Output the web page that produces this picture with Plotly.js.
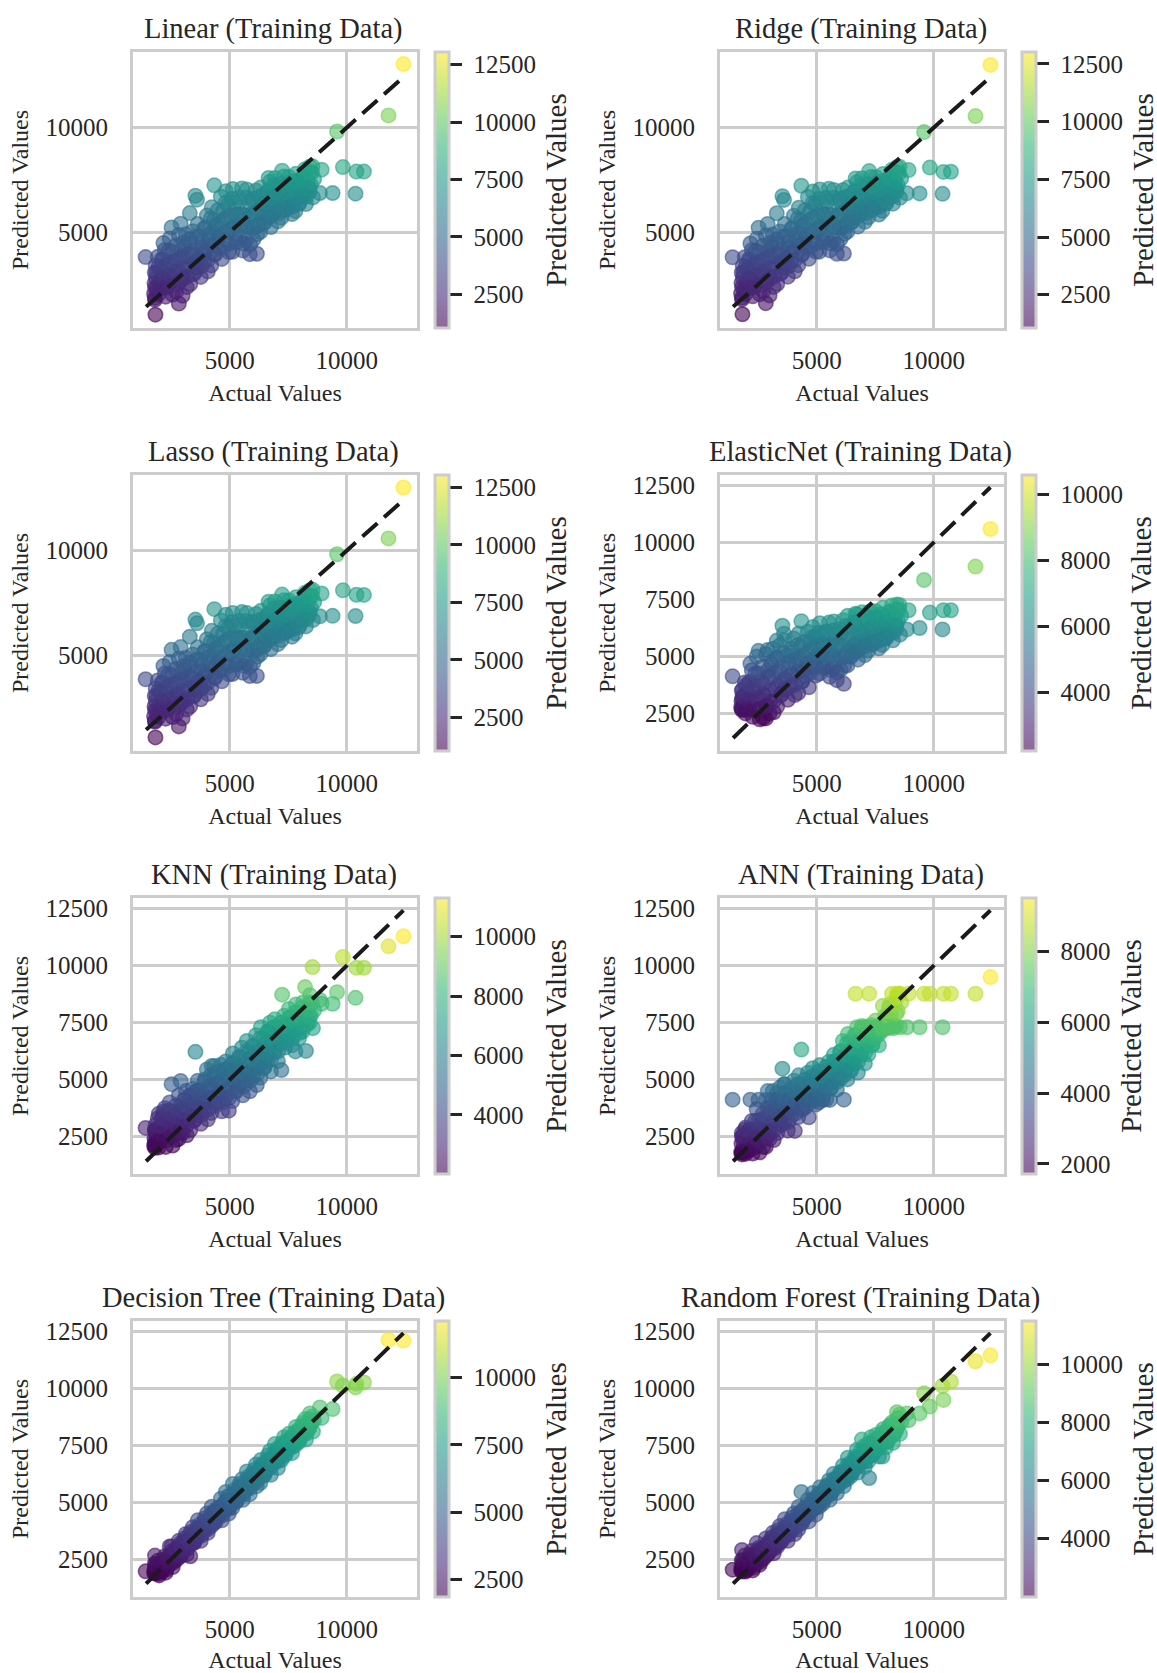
<!DOCTYPE html>
<html>
<head>
<meta charset="utf-8">
<script src="https://cdn.plot.ly/plotly-3.0.1.min.js"></script>
<style>html,body{margin:0;padding:0;background:#fff}</style>
</head>
<body>
<div id="chart" style="width:1157px;height:1673px"></div>
<script>
var modelNames = ["Linear","Ridge","Lasso","ElasticNet","KNN","ANN","Decision Tree","Random Forest"];

var actual = [
1400,1820,1800,1960,2160,2510,2900,2820,2980,3290,3530,3600,4340,6660,7240,8540,8855,8930,9400,9590,9840,10380,10420,10740,11790,12430,
1800,1760,1870,1780,1840,1790,
1950,1800,2010,1860,1830,1920,
2260,2110,2170,2310,2130,2220,
2560,2410,2610,2470,2520,2430,
2710,2860,2770,2730,2910,2820,
3160,3010,3210,3030,3070,3120,
3310,3460,3510,3370,3330,3420,
3760,3610,3670,3810,3720,3630,
4060,3910,3970,4110,3930,4020,
4210,4360,4410,4270,4320,4230,
4660,4510,4570,4530,4710,4620,
4960,4810,5010,4870,4920,4830,
5110,5260,5170,5310,5220,5130,
5560,5410,5610,5470,5430,5520,
5860,5710,5770,5910,5820,5730,
6160,6010,6210,6070,6030,6120,
6310,6460,6510,6370,6420,6330,
6760,6610,6670,6810,6630,6720,
7060,6910,7110,6970,7020,6930,
7210,7360,7270,7230,7410,7320,
7660,7510,7570,7710,7620,7530,
7810,7960,8010,7870,7920,7830,
8260,8110,8310,8170,8130,8220,
8560,8410,8470,8610,8520,8430,
1980,2120,2030,2090,
2290,2410,2320,2380,
2580,2710,2630,2690,
2890,3000,2920,3030,
3170,3320,3230,3290,
3480,3610,3520,3590,
3790,3900,3830,3920,
4070,4220,4130,4190,
4380,4510,4420,4490,
4690,4800,4730,4820,
4970,5120,5030,5090,
5280,5410,5320,5390,
5590,5700,5630,5720,
5870,6020,5930,5990,
6180,6310,6220,6290,
6490,6600,6530,6620,
6770,6920,6830,6890,
7080,7210,7120,7190,
7390,7500,7430,7520,
7670,7820,7730,7790,
7980,8110,8020,8090,
8290,8400,8330,8420];

var linearPred = [
3800,1040,1840,3350,4470,5220,5400,1570,1950,5910,6740,6550,7240,7590,7940,8150,6870,7990,6870,9820,8115,6840,7900,7900,10590,13050,
1750,2040,2320,2550,2790,3060,
2010,2340,2710,3040,3390,3810,
1900,2310,2740,3190,3660,4140,
2000,2520,3010,3490,4060,4690,
2150,2640,3160,3650,4140,4860,
2360,2800,3290,3810,4300,4890,
2510,2990,3520,3940,4460,5040,
2850,3310,3740,4260,4790,5390,
3110,3590,4110,4600,5160,5790,
3400,3920,4440,5010,5560,6190,
3710,4240,4860,5390,6010,6690,
4040,4610,5140,5710,6290,6960,
4050,4660,5240,5810,6390,7060,
4110,4690,5310,5840,6460,7090,
3940,4610,5240,5860,6440,7040,
3960,4640,5310,5890,6460,6990,
5010,5440,5910,6340,6760,7140,
5240,5710,6090,6560,6940,7410,
5510,5940,6360,6740,7160,7590,
5690,6110,6490,6860,7240,7660,
5860,6190,6560,6890,7310,7640,
6010,6340,6710,7040,7410,7790,
6340,6660,6940,7310,7640,8010,
6660,6940,7260,7540,7860,8140,
2300,2800,3200,3700,
2350,2950,3450,4100,
2450,3100,3600,4350,
2650,3300,3800,4500,
2850,3450,3950,4650,
3050,3650,4150,4800,
3350,4000,4500,5200,
3650,4350,4900,5650,
3950,4700,5300,6050,
4250,5000,5600,6400,
4450,5200,5800,6600,
4500,5250,5850,6650,
4450,5250,5800,6650,
4400,5200,5750,6600,
4900,5500,6050,6700,
5450,5950,6400,6950,
5750,6200,6650,7250,
5900,6350,6800,7300,
6050,6500,6900,7350,
6200,6600,7000,7450,
6400,6800,7200,7600,
6700,7100,7450,7850];

var ridgePred = [
3790,1060,1860,3340,4450,5210,5390,1590,1960,5900,6720,6540,7220,7570,7920,8130,6860,7970,6850,9790,8090,6830,7880,7890,10560,13010,
1770,2050,2310,2560,2810,3050,
2020,2360,2700,3060,3380,3790,
1920,2300,2760,3200,3640,4130,
2020,2510,3020,3500,4040,4680,
2160,2660,3140,3660,4130,4840,
2370,2810,3300,3790,4310,4880,
2520,3010,3500,3960,4440,5030,
2860,3300,3760,4240,4810,5380,
3120,3610,4090,4610,5140,5780,
3410,3910,4460,4990,5550,6170,
3720,4260,4840,5410,5990,6680,
4060,4590,5160,5690,6310,6940,
4060,4640,5260,5790,6410,7040,
4120,4710,5290,5860,6440,7080,
3960,4590,5260,5840,6460,7020,
3970,4660,5290,5910,6440,7010,
5020,5460,5890,6360,6740,7130,
5260,5690,6110,6540,6960,7390,
5490,5960,6340,6760,7140,7580,
5710,6090,6510,6840,7260,7640,
5840,6210,6540,6910,7290,7630,
6020,6360,6690,7060,7390,7780,
6360,6640,6960,7290,7660,7990,
6640,6960,7240,7560,7840,8120,
2310,2790,3210,3690,
2360,2940,3460,4090,
2460,3090,3610,4340,
2660,3290,3810,4490,
2860,3440,3960,4640,
3060,3640,4160,4790,
3360,3990,4510,5190,
3660,4340,4910,5640,
3960,4690,5310,6040,
4260,4990,5610,6390,
4460,5190,5810,6590,
4510,5240,5860,6640,
4460,5240,5810,6640,
4410,5190,5760,6590,
4910,5490,6060,6690,
5460,5940,6410,6940,
5760,6190,6660,7240,
5910,6340,6810,7290,
6060,6490,6910,7340,
6210,6590,7010,7440,
6410,6790,7210,7590,
6710,7090,7460,7840];

var lassoPred = [
3840,1050,1850,3300,4480,5250,5380,1580,1960,5880,6700,6520,7200,7560,7900,8130,6860,7950,6880,9830,8100,6870,7890,7880,10590,13030,
1800,2060,2340,2540,2780,3040,
2030,2370,2690,3030,3400,3780,
1950,2290,2730,3180,3670,4120,
2030,2490,3000,3510,4030,4670,
2180,2630,3170,3640,4150,4830,
2390,2790,3310,3780,4290,4870,
2540,3020,3490,3930,4470,5020,
2880,3290,3770,4230,4780,5370,
3140,3580,4120,4590,5170,5760,
3430,3890,4470,4980,5570,6160,
3740,4230,4870,5380,6020,6660,
4080,4580,5170,5680,6280,6930,
4090,4630,5270,5780,6380,7020,
4150,4680,5320,5830,6430,7060,
3990,4580,5270,5830,6430,7010,
4000,4620,5320,5880,6450,6970,
5040,5430,5920,6330,6730,7120,
5280,5680,6120,6530,6930,7380,
5520,5930,6370,6730,7130,7570,
5720,6080,6520,6830,7230,7630,
5880,6180,6570,6880,7280,7620,
6040,6330,6720,7030,7380,7770,
6370,6630,6970,7280,7630,7980,
6680,6930,7270,7530,7830,8110,
2330,2780,3220,3680,
2380,2930,3470,4080,
2480,3080,3620,4330,
2680,3280,3820,4480,
2880,3430,3970,4630,
3080,3630,4170,4780,
3380,3980,4520,5180,
3680,4330,4920,5630,
3980,4680,5320,6030,
4280,4980,5620,6380,
4480,5180,5820,6580,
4530,5230,5870,6630,
4480,5230,5820,6630,
4430,5180,5770,6580,
4930,5480,6070,6680,
5480,5930,6420,6930,
5780,6180,6670,7230,
5930,6330,6820,7280,
6080,6480,6920,7330,
6230,6580,7020,7430,
6430,6780,7220,7580,
6730,7080,7470,7830];

var elasticPred = [
4130,2700,3160,3740,4690,5250,5280,2280,2500,5700,6350,6000,6550,6880,6950,7260,6190,7030,6250,8360,6930,6190,7030,7030,8950,10600,
2650,2760,2900,3040,3260,3500,
2500,2700,2960,3240,3550,3860,
2350,2740,3150,3510,3890,4400,
2240,2700,3160,3640,4260,5000,
2300,2810,3290,3810,4390,5100,
2550,3040,3560,4090,4660,5340,
2810,3290,3810,4340,4910,5490,
3100,3560,3990,4510,5040,5710,
3310,3740,4210,4640,5160,5790,
3400,3910,4390,4910,5440,6010,
3650,4140,4660,5090,5610,6090,
4160,4540,5010,5390,5860,6290,
4250,4660,5040,5510,5940,6460,
4110,4540,5060,5490,6010,6490,
3960,4490,5060,5490,6010,6540,
3800,4410,4990,5510,6040,6590,
4610,4990,5410,5790,6310,6790,
4860,5190,5560,5940,6410,6840,
5060,5390,5760,6090,6510,6940,
5260,5540,5860,6190,6610,6990,
5360,5640,5960,6290,6660,6990,
5510,5790,6110,6390,6760,7140,
5710,5990,6310,6590,6960,7240,
5960,6240,6560,6790,7060,7280,
2650,3050,3400,3800,
2650,3200,3700,4250,
2700,3350,3900,4550,
2850,3500,4100,4750,
3050,3700,4300,4950,
3350,4000,4550,5150,
3600,4200,4750,5350,
3750,4350,4900,5500,
3900,4500,5050,5650,
4250,4800,5300,5850,
4550,5050,5500,6050,
4500,5050,5550,6100,
4400,5000,5550,6150,
4300,4950,5550,6200,
4600,5200,5750,6350,
5050,5500,6000,6500,
5250,5700,6150,6600,
5450,5850,6250,6700,
5550,5950,6350,6750,
5700,6050,6450,6850,
5850,6200,6550,6950,
6050,6400,6700,7050];

var knnPred = [
2880,2100,2750,3500,3600,4800,4940,2400,2650,4300,6220,4500,5600,7100,8730,9940,8500,8330,8330,8840,10380,8590,9910,9910,10850,11290,
2010,2100,2250,2410,2590,2800,
2020,2240,2510,2740,3010,3300,
2050,2410,2740,3060,3390,3750,
2110,2490,2860,3190,3610,4000,
2350,2710,3090,3460,3840,4300,
2560,2940,3310,3690,4110,4500,
2790,3210,3540,3910,4240,4600,
3060,3440,3810,4190,4560,4950,
3260,3690,4110,4540,5010,5450,
3540,3960,4340,4760,5140,5600,
3610,4040,4510,4890,5310,5650,
3640,4210,4690,5110,5490,5800,
4060,4490,4910,5340,5760,6150,
4310,4740,5160,5540,5960,6400,
4490,4960,5340,5760,6190,6700,
4760,5140,5610,5990,6460,6950,
5090,5510,5890,6360,6790,7300,
5360,5790,6210,6640,7110,7500,
5810,6190,6560,6940,7310,7650,
5420,6410,6740,7110,7440,7800,
6510,6840,7160,7440,7760,8100,
6240,6810,7240,7610,7940,8300,
6260,7110,7490,7910,8390,9060,
7260,7490,7810,8040,8360,8700,
2250,2600,2950,3300,
2350,2800,3200,3650,
2550,3000,3400,3850,
2750,3200,3650,4100,
3000,3400,3850,4300,
3200,3650,4050,4500,
3450,3950,4400,4900,
3700,4200,4700,5200,
3850,4350,4850,5350,
4000,4500,5000,5450,
4200,4750,5250,5700,
4500,5000,5500,6000,
4700,5250,5700,6250,
4950,5450,5950,6500,
5250,5750,6250,6800,
5550,6050,6550,7100,
5900,6350,6800,7300,
6250,6650,7050,7500,
6650,7000,7350,7700,
6800,7150,7550,7950,
7050,7450,7800,8150,
7400,7750,8050,8400];

var annPred = [
4120,1800,2500,2900,4120,4120,4500,2050,2400,4400,5480,4800,6320,8770,8770,8770,7300,8770,7300,8770,8770,7300,8770,8770,8770,9500,
1720,1800,2010,2190,2510,2650,
1750,1860,2040,2310,2540,2800,
1760,1900,2210,2490,2810,3190,
1810,2090,2460,2790,3210,3700,
2050,2510,2890,3310,3790,4110,
2350,2790,3210,3590,4120,4500,
2660,3040,3460,3890,4110,4650,
2760,3210,3640,4110,4390,4800,
2750,3410,3840,4110,4510,4950,
3360,3690,4110,4390,4810,5190,
3350,3790,4110,4510,4890,5300,
3910,4110,4390,4760,5090,5500,
4010,4110,4510,4890,5260,5640,
4110,4140,4610,4990,5410,5790,
4560,4890,5210,5490,5810,6090,
4120,5040,5410,5790,6260,6700,
5010,5390,5810,6190,6660,7000,
5310,5690,6110,6490,6910,7300,
5710,6090,6510,6890,7300,7350,
6110,6490,6810,7090,7300,7400,
6510,6890,7210,7300,7350,7600,
7150,7250,7300,7350,7810,8240,
7250,7300,7350,7890,8310,8770,
7300,7350,8010,8390,8770,8770,
1900,2200,2500,2750,
2000,2400,2800,3200,
2250,2700,3100,3500,
2500,2950,3400,3800,
2800,3250,3700,4120,
3000,3500,4000,4400,
3150,3700,4120,4600,
3500,3950,4400,4800,
3700,4120,4600,5000,
3950,4300,4750,5150,
4120,4500,4950,5350,
4300,4700,5100,5550,
4650,5000,5400,5800,
4900,5300,5700,6200,
5200,5650,6100,6600,
5500,5950,6350,6950,
5800,6250,6700,7250,
6200,6600,7000,7300,
6550,6850,7150,7300,
7000,7200,7300,7350,
7280,7350,7800,8150,
7330,7900,8300,8600];

var treePred = [
1960,1900,2650,2100,2200,3050,3200,2950,2800,3400,3650,3500,4550,6900,7600,8570,9160,8700,9090,10300,10120,10040,10200,10260,12130,12100,
1860,1900,1960,2040,2150,2280,
1850,1950,2050,2160,2280,2420,
1900,2020,2150,2300,2460,2620,
2150,2310,2440,2660,2840,3050,
2450,2590,2760,2940,3110,3300,
2700,2890,3060,3240,3410,3600,
2620,3210,3340,3510,3690,3900,
3300,3490,3660,3790,4010,4200,
3650,3810,3940,4160,4290,4500,
3950,4090,4260,4440,4610,4800,
4200,4410,4540,4710,4890,5150,
4500,4690,4860,5040,5260,5450,
4750,5010,5140,5310,5540,5800,
5100,5290,5460,5590,5810,6000,
5350,5560,5740,5960,6140,6350,
5700,5840,6060,6190,6410,6650,
5850,6160,6340,6510,6690,6850,
6200,6440,6660,6840,7060,7250,
6500,6760,6990,7160,7340,7550,
6850,7040,7260,7440,7660,7850,
7150,7360,7540,7710,7840,8000,
7500,7640,7860,7990,8160,8300,
7750,8010,8140,8360,8490,8650,
8100,8290,8460,8590,8760,8900,
1780,1960,2130,2340,
2040,2240,2430,2630,
2340,2520,2740,2940,
2620,2840,3030,3240,
2930,3130,3340,3550,
3220,3440,3630,3840,
3530,3730,3940,4150,
3820,4040,4230,4450,
4130,4330,4540,4750,
4420,4640,4830,5050,
4730,4930,5140,5350,
5020,5240,5430,5650,
5330,5530,5740,5950,
5620,5840,6030,6250,
5930,6130,6340,6550,
6220,6440,6630,6850,
6530,6730,6940,7150,
6820,7040,7230,7450,
7130,7330,7540,7750,
7420,7640,7830,8050,
7730,7930,8140,8350,
8020,8240,8430,8650];

var forestPred = [
2030,2050,2900,2200,2700,2900,3150,2700,2850,3500,3700,3750,5450,6800,6060,8850,8900,8600,8900,9780,9200,10110,9490,10300,11190,11450,
1950,2010,2080,2160,2280,2450,
1950,2030,2130,2260,2430,2650,
2000,2130,2300,2460,2650,2850,
2250,2460,2590,2810,2990,3200,
2500,2690,2860,2990,3210,3400,
2750,2960,3090,3310,3440,3650,
3050,3240,3410,3540,3760,3950,
3300,3510,3690,3860,4040,4250,
3600,3740,3960,4140,4310,4500,
3800,4060,4240,4410,4590,4800,
4150,4340,4560,4690,4910,5100,
4450,4660,4840,5010,5190,5400,
4800,4940,5110,5290,5460,5650,
5100,5260,5390,5610,5740,5950,
5400,5540,5760,5890,6060,6250,
5700,5860,6040,6210,6340,6600,
6000,6140,6310,6490,6710,6950,
6300,6460,6590,6810,6990,7300,
6550,6740,6960,7190,7460,7750,
6800,7060,7240,7460,7640,7850,
7000,7260,7390,7610,7790,7950,
7000,7410,7640,7860,8040,8200,
7600,7790,7960,8140,8360,8500,
8000,8160,8340,8490,8710,8950,
2000,2150,2280,2480,
2120,2290,2480,2680,
2380,2560,2760,2950,
2680,2850,3060,3260,
2960,3160,3350,3570,
3280,3440,3660,3860,
3560,3760,3950,4170,
3880,4040,4260,4460,
4160,4360,4550,4770,
4480,4640,4860,5060,
4760,4960,5150,5370,
5080,5240,5460,5660,
5360,5560,5750,5970,
5680,5840,6060,6260,
5960,6160,6350,6570,
6280,6440,6660,6860,
6560,6760,6950,7270,
6780,7040,7280,7560,
7080,7340,7550,7760,
7380,7640,7850,8060,
7650,7900,8140,8350,
8000,8240,8450,8650];

var diagonal = [1420, 12430];
var axisTicksCoarse = [5000, 10000];
var axisTicksFine = [2500, 5000, 7500, 10000, 12500];
var barTicks2500 = [2500, 5000, 7500, 10000, 12500];
var barTicksElastic = [4000, 6000, 8000, 10000];
var barTicksKnn = [4000, 6000, 8000, 10000];
var barTicksAnn = [2000, 4000, 6000, 8000];
var barTicksTree = [2500, 5000, 7500, 10000];
var barTicksForest = [4000, 6000, 8000, 10000];

var predictions = [linearPred, ridgePred, lassoPred, elasticPred, knnPred, annPred, treePred, forestPred];
var yRanges = [[400,13630],[400,13630],[400,13630],[850,12970],[860,12970],[860,12970],[830,12960],[830,12960]];
var yTicks = [axisTicksCoarse, axisTicksCoarse, axisTicksCoarse, axisTicksFine, axisTicksFine, axisTicksFine, axisTicksFine, axisTicksFine];
var barRanges = [[1035,13050],[1055,13020],[1045,13035],[2232,10596],[2011,11303],[1718,9495],[1844,12104],[1980,11492]];
var barTicks = [barTicks2500, barTicks2500, barTicks2500, barTicksElastic, barTicksKnn, barTicksAnn, barTicksTree, barTicksForest];

var viridis = [[68,1,84],[72,40,120],[62,73,137],[49,104,142],[38,130,142],[31,158,137],[53,183,121],[110,206,88],[181,222,43],[253,231,37]];
var alphaScale = viridis.map(function(c,i){return [i/(viridis.length-1),'rgba('+c[0]+','+c[1]+','+c[2]+',0.6)'];});

var W=1157,H=1673,ink='#262626',grid='#cccccc',serif='"Liberation Serif","Times New Roman",serif';
var colLeft=[133,720],plotW=284,rowTop=[52,475,898,1321],plotH=276,barLeft=[435,1022];

var data=[],layout={width:W,height:H,margin:{l:0,r:0,t:0,b:0},paper_bgcolor:'#fff',plot_bgcolor:'#fff',showlegend:false,annotations:[],font:{family:serif,color:ink}};

modelNames.forEach(function(name,i){
  var col=i%2,row=Math.floor(i/2),s=i===0?'':String(i+1);
  var xa='x'+s,ya='y'+s,l=colLeft[col],t=rowTop[row];
  layout['xaxis'+s]={domain:[l/W,(l+plotW)/W],anchor:ya,range:[860,13010],tickmode:'array',tickvals:axisTicksCoarse,tickformat:'d',ticks:'',ticklabelstandoff:8,
    showgrid:true,gridcolor:grid,gridwidth:2.5,zeroline:false,showline:true,mirror:true,linecolor:grid,linewidth:3,
    tickfont:{size:25,family:serif,color:ink},title:{text:'Actual Values',font:{size:24,family:serif,color:ink},standoff:12}};
  layout['yaxis'+s]={domain:[1-(t+plotH)/H,1-t/H],anchor:xa,range:yRanges[i],tickmode:'array',tickvals:yTicks[i],tickformat:'d',ticks:'',ticklabelstandoff:17,
    showgrid:true,gridcolor:grid,gridwidth:2.5,zeroline:false,showline:true,mirror:true,linecolor:grid,linewidth:3,
    tickfont:{size:25,family:serif,color:ink},title:{text:'Predicted Values',font:{size:24,family:serif,color:ink},standoff:11}};
  layout.annotations.push({xref:'paper',yref:'paper',x:(l+plotW/2-1.5)/W,y:1-(t-23)/H,text:name+' (Training Data)',showarrow:false,xanchor:'center',yanchor:'middle',font:{size:28.5,family:serif,color:ink}});
  data.push({type:'scatter',mode:'markers',x:actual,y:predictions[i],xaxis:xa,yaxis:ya,hoverinfo:'skip',
    marker:{size:14.5,color:predictions[i],colorscale:alphaScale,cmin:barRanges[i][0],cmax:barRanges[i][1],showscale:true,
      line:{width:1.5,color:predictions[i],colorscale:alphaScale,cmin:barRanges[i][0],cmax:barRanges[i][1]},
      colorbar:{x:barLeft[col]/W,xanchor:'left',xpad:0,ypad:0,y:1-t/H,yanchor:'top',len:plotH,lenmode:'pixels',thickness:14,thicknessmode:'pixels',
        outlinecolor:grid,outlinewidth:3,borderwidth:0,tickmode:'array',tickvals:barTicks[i],tickformat:'d',ticks:'outside',ticklen:12,tickwidth:2.5,tickcolor:ink,
        tickfont:{size:25,family:serif,color:ink},title:{text:'Predicted Values',side:'right',font:{size:29,family:serif,color:ink}}}}});
  data.push({type:'scatter',mode:'lines',x:diagonal,y:diagonal,xaxis:xa,yaxis:ya,hoverinfo:'skip',
    line:{color:'#1a1a1a',width:4,dash:'20px,9px'}});
});

Plotly.newPlot('chart',data,layout,{displayModeBar:false,responsive:false}).then(function(){
  // Plotly has no colorbar label standoff: widen the gap after layout.
  document.querySelectorAll('.colorbar').forEach(function(bar,idx){
    bar.querySelectorAll('.cbaxis text').forEach(function(t){
      t.setAttribute('x', parseFloat(t.getAttribute('x')||0)+6.5);
    });
    var extra = modelNames[idx]==='ElasticNet' ? 10 : 0;
    var g = bar.querySelector('.cbtitleunshift');
    if(g) g.setAttribute('transform','translate('+(8.5+extra)+',0) '+(g.getAttribute('transform')||''));
  });
});
</script>
</body>
</html>
